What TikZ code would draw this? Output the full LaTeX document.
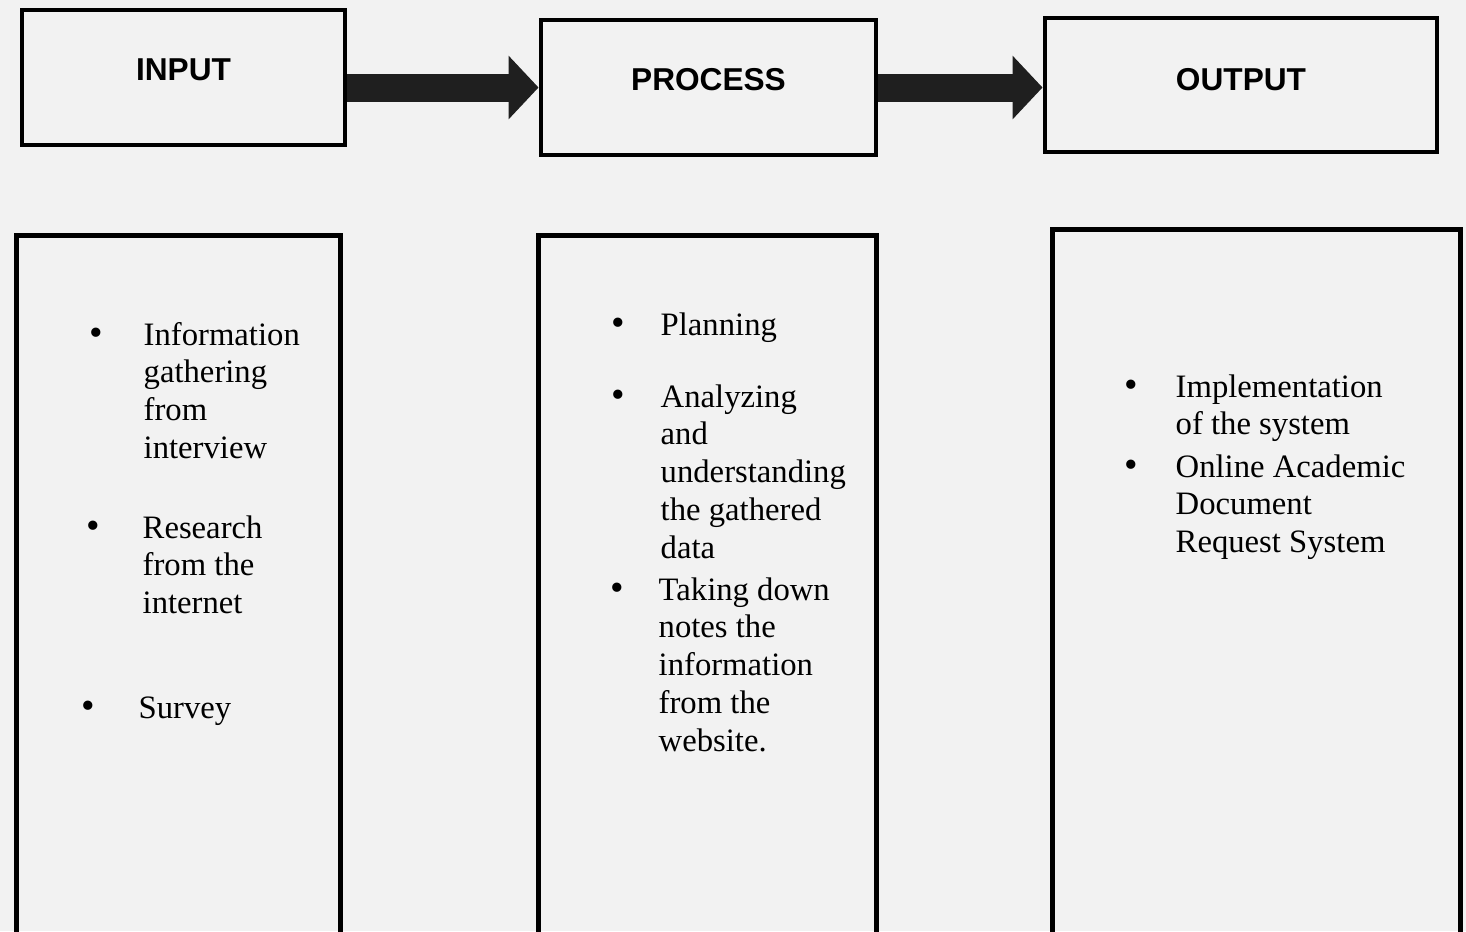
\documentclass[tikz,border=0pt]{standalone}
\usepackage{fontspec}
\setmainfont{Liberation Serif}
\setsansfont{Liberation Sans}
\usetikzlibrary{arrows.meta}
\newcommand\itemlines[1]{\begin{tabular}[t]{@{}l@{}}#1\end{tabular}}
\tikzset{
  >=latex,
  hdbox/.style={draw,line width=1.4pt,minimum height=1.35cm,inner sep=0pt},
  bodybox/.style={draw,line width=1.4pt,anchor=north west,inner sep=0pt},
  hdlbl/.style={anchor=base,inner sep=0pt,font=\sffamily\bfseries\fontsize{9}{11}\selectfont},
  bul/.style={anchor=base,inner sep=0pt,font=\fontsize{11}{11}\selectfont},
  item/.style={anchor=base west,inner sep=0pt,font=\fontsize{9.3}{10.8}\selectfont},
  flow/.style={line width=2.8mm,draw=black!88,-{Triangle[length=3mm,width=6.2mm]}}
}

\begin{document}
\begin{tikzpicture}
      \fill[black!5] (0,0) rectangle (14.66,-9.31);
      \useasboundingbox (0,0) rectangle (14.66,-9.31);
      \node[hdbox,minimum width=3.23cm] (in) at (1.835,-0.775) {};
      \node[hdbox,minimum width=3.35cm] (proc) at (7.085,-0.875) {};
      \node[hdbox,minimum width=3.92cm,minimum height=1.34cm] (out) at (12.41,-0.85) {};
      \node[hdlbl] (inlbl) at ([yshift=-0.03cm]in.center) {INPUT};
      \node[hdlbl] (proclbl) at ([yshift=-0.03cm]proc.center) {PROCESS};
      \node[hdlbl] (outlbl) at ([yshift=-0.05cm]out.center) {OUTPUT};
      \draw[flow] (in.east |- proc.west) -- (proc.west);
      \draw[flow] (proc.east) -- (proc.east -| out.west);
      \node[bodybox,minimum width=3.24cm,minimum height=7.3cm] (inbody) at (0.14,-2.33) {};
      \node[bodybox,minimum width=3.38cm,minimum height=7.3cm] (procbody) at (5.36,-2.33) {};
      \node[bodybox,minimum width=4.08cm,minimum height=7.4cm] (outbody) at (10.50,-2.27) {};
      \node[bul] (inb1) at (0.96,-3.45) {•};
      \node[item] (init1) at (1.43,-3.45) {\itemlines{Information\\gathering\\from\\interview}};
      \node[bul] (inb2) at (0.93,-5.38) {•};
      \node[item] (init2) at (1.42,-5.38) {\itemlines{Research\\from the\\internet}};
      \node[bul] (inb3) at (0.88,-7.18) {•};
      \node[item] (init3) at (1.38,-7.18) {Survey};
      \node[bul] (procb1) at (6.18,-3.35) {•};
      \node[item] (procit1) at (6.60,-3.35) {Planning};
      \node[bul] (procb2) at (6.18,-4.07) {•};
      \node[item] (procit2) at (6.60,-4.07) {\itemlines{Analyzing\\and\\understanding\\the gathered\\data}};
      \node[bul] (procb3) at (6.17,-6.00) {•};
      \node[item] (procit3) at (6.58,-6.00) {\itemlines{Taking down\\notes the\\information\\from the\\website.}};
      \node[bul] (outb1) at (11.31,-3.97) {•};
      \node[item] (outit1) at (11.75,-3.97) {\itemlines{Implementation\\of the system}};
      \node[bul] (outb2) at (11.31,-4.77) {•};
      \node[item] (outit2) at (11.75,-4.77) {\itemlines{Online Academic\\Document\\Request System}};
\end{tikzpicture}
\end{document}
